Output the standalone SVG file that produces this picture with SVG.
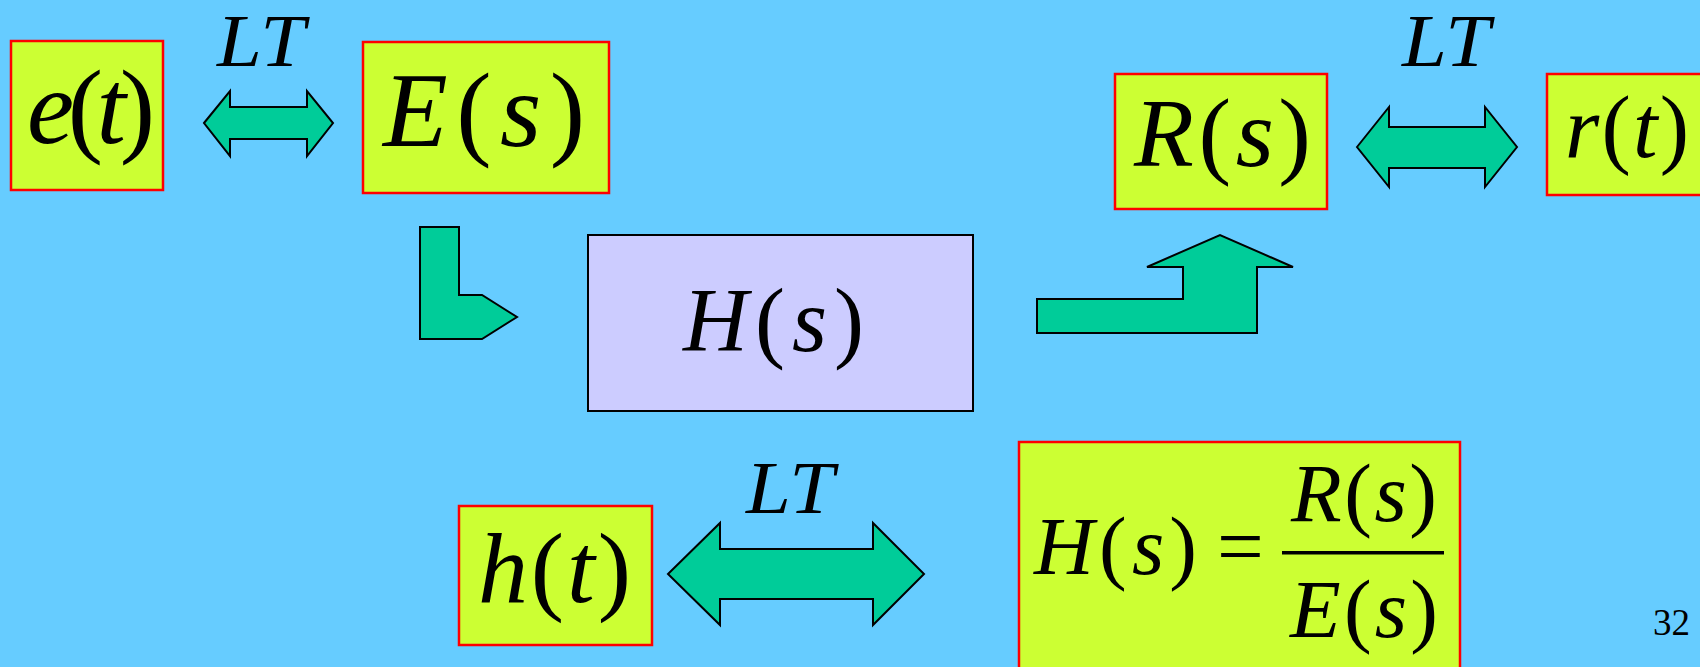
<svg xmlns="http://www.w3.org/2000/svg" width="1700" height="667" viewBox="0 0 1700 667">
<style>
.bg{fill:#66CCFF}
.box{fill:#CCFF33;stroke:#FF0000;stroke-width:2.5}
.hbox{fill:#CCCCFF;stroke:#000;stroke-width:2}
.arr{fill:#00CC99;stroke:#000;stroke-width:2;stroke-linejoin:miter}
.m{font-family:"Liberation Serif","Times New Roman",serif;fill:#000}
.i{font-style:italic}
</style>
<rect class="bg" x="0" y="0" width="1700" height="667"/>
<g id="connectors">
<polygon class="arr" points="204,123 230,91 230,107 307,107 307,91 333,123 307,156 307,139 230,139 230,156"/>
<polygon class="arr" points="1357,147 1389,107 1389,127 1485,127 1485,107 1517,147 1485,187 1485,168 1389,168 1389,187"/>
<polygon class="arr" points="668,574 720,523 720,549 873,549 873,523 924,574 873,625 873,599 720,599 720,625"/>
<polygon class="arr" points="420,227 459,227 459,295 482,295 517,317 482,339 420,339"/>
<polygon class="arr" points="1037,299 1183,299 1183,267 1147,267 1220,235 1293,267 1257,267 1257,333 1037,333"/>
<text class="m i" x="217" y="66" font-size="74" textLength="88" lengthAdjust="spacingAndGlyphs">LT</text>
<text class="m i" x="1402" y="66" font-size="74" textLength="88" lengthAdjust="spacingAndGlyphs">LT</text>
<text class="m i" x="746" y="513" font-size="74" textLength="88" lengthAdjust="spacingAndGlyphs">LT</text>
</g>
<g id="node-et">
<rect class="box" x="11" y="41" width="152" height="149"/>
<text class="m" x="27" y="143" font-size="106" textLength="128" lengthAdjust="spacing"><tspan class="i">e</tspan>(<tspan class="i">t</tspan>)</text>
</g>
<g id="node-Es">
<rect class="box" x="363" y="42" width="246" height="151"/>
<text class="m" x="383" y="146" font-size="106" textLength="202" lengthAdjust="spacing"><tspan class="i">E</tspan>(<tspan class="i">s</tspan>)</text>
</g>
<g id="node-Rs">
<rect class="box" x="1115" y="74" width="212" height="135"/>
<text class="m" x="1134" y="166" font-size="98" textLength="177" lengthAdjust="spacing"><tspan class="i">R</tspan>(<tspan class="i">s</tspan>)</text>
</g>
<g id="node-rt">
<rect class="box" x="1547" y="74" width="170" height="121"/>
<text class="m" x="1565" y="157" font-size="88" textLength="124" lengthAdjust="spacing"><tspan class="i">r</tspan>(<tspan class="i">t</tspan>)</text>
</g>
<g id="node-Hs">
<rect class="hbox" x="588" y="235" width="385" height="176"/>
<text class="m" x="683" y="351" font-size="90" textLength="181" lengthAdjust="spacing"><tspan class="i">H</tspan>(<tspan class="i">s</tspan>)</text>
</g>
<g id="node-ht">
<rect class="box" x="459" y="506" width="193" height="139"/>
<text class="m" x="478" y="602" font-size="100" textLength="153" lengthAdjust="spacing"><tspan class="i">h</tspan>(<tspan class="i">t</tspan>)</text>
</g>
<g id="node-eq">
<rect class="box" x="1019" y="442" width="441" height="240"/>
<text class="m" x="1034" y="574" font-size="83" textLength="163" lengthAdjust="spacing"><tspan class="i">H</tspan>(<tspan class="i">s</tspan>)</text>
<text class="m" x="1217" y="574" font-size="83">=</text>
<rect x="1282" y="551" width="162" height="3.5" fill="#000"/>
<text class="m" x="1291" y="521" font-size="83" textLength="146" lengthAdjust="spacing"><tspan class="i">R</tspan>(<tspan class="i">s</tspan>)</text>
<text class="m" x="1290" y="637" font-size="83" textLength="148" lengthAdjust="spacing"><tspan class="i">E</tspan>(<tspan class="i">s</tspan>)</text>
</g>
<text class="m" x="1653" y="635" font-size="37">32</text>
</svg>
